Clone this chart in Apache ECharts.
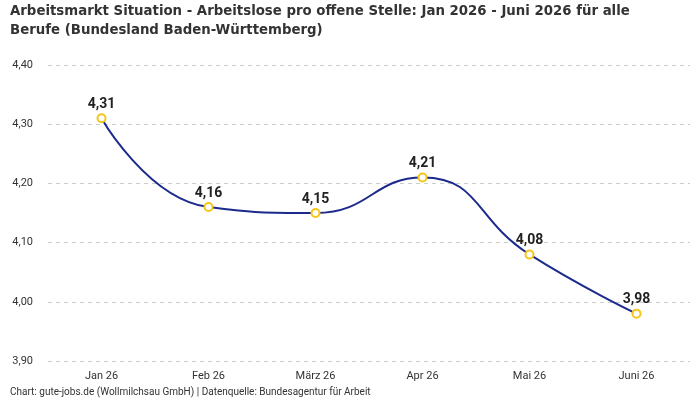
<!DOCTYPE html>
<html>
<head>
<meta charset="utf-8">
<title>Arbeitsmarkt Situation</title>
<script src="https://cdn.jsdelivr.net/npm/echarts@6/dist/echarts.min.js"></script>
<style>
  html, body { margin: 0; padding: 0; background: #fff; }
  #main { width: 700px; height: 400px; }
</style>
</head>
<body>
<div id="main"></div>
<script>
var months = ['Jan 26', 'Feb 26', 'März 26', 'Apr 26', 'Mai 26', 'Juni 26'];
var ratio = [4.31, 4.16, 4.15, 4.21, 4.08, 3.98];

function de(v) { return v.toFixed(2).replace('.', ','); }

var myChart = echarts.init(document.getElementById('main'));
myChart.setOption({
  animation: false,
  textStyle: { fontFamily: 'Roboto' },
  title: [{
    text: 'Arbeitsmarkt Situation - Arbeitslose pro offene Stelle: Jan 2026 - Juni 2026 für alle\nBerufe (Bundesland Baden-Württemberg)',
    left: 5, top: -3,
    textStyle: { fontFamily: '"DejaVu Sans Condensed", Roboto', fontSize: 14.8, fontWeight: 'bold', color: '#333', lineHeight: 19 }
  }, {
    text: 'Chart: gute-jobs.de (Wollmilchsau GmbH) | Datenquelle: Bundesagentur für Arbeit',
    left: 5, top: 382,
    textStyle: { fontSize: 10, fontWeight: 'normal', color: '#333' }
  }],
  grid: { left: 48, right: 10, top: 65, bottom: 39 },
  xAxis: {
    type: 'category',
    data: months,
    axisLine: { show: false },
    axisTick: { show: false },
    axisLabel: { color: '#333', fontSize: 11, margin: 10 }
  },
  yAxis: {
    type: 'value',
    min: 3.9, max: 4.4, interval: 0.1,
    axisLabel: { color: '#333', fontSize: 11, margin: 15, formatter: function (v) { return de(v); } },
    splitLine: { lineStyle: { type: [4, 4], color: '#ccc' } }
  },
  series: [{
    type: 'line',
    data: ratio,
    smooth: true,
    symbol: 'circle',
    symbolSize: 8,
    lineStyle: { color: '#1c2a8c', width: 2 },
    itemStyle: { color: '#fff', borderColor: '#f5c518', borderWidth: 2 },
    label: {
      show: true, position: 'top', distance: 2,
      fontSize: 14, fontWeight: 'bold', color: '#222',
      formatter: function (p) { return de(p.value); }
    }
  }]
});
</script>
</body>
</html>
